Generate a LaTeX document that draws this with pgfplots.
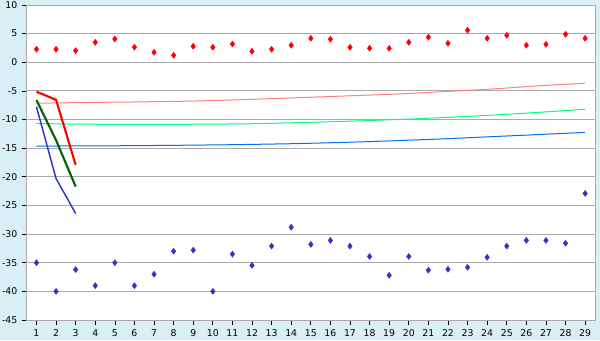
\documentclass[border=0pt]{standalone}
\usepackage{pgfplots}
\pgfplotsset{compat=1.18}
\usepackage{fontspec}
\setmainfont{DejaVu Sans}
\definecolor{bgblue}{RGB}{218,238,245}
\definecolor{gridgray}{RGB}{170,170,170}
\definecolor{ptred}{RGB}{255,0,0}
\definecolor{ptblue}{RGB}{51,51,204}
\definecolor{dkgreen}{RGB}{0,100,0}
\definecolor{pinkline}{RGB}{255,128,128}
\definecolor{ltgreen}{RGB}{0,255,128}
\definecolor{ltblue}{RGB}{0,112,240}
\begin{document}
\begin{tikzpicture}
\fill[bgblue] (0,0) rectangle (450pt,255pt);
\begin{axis}[
  at={(20pt,15pt)}, anchor=south west,
  scale only axis, width=426.2pt, height=236.25pt,
  xmin=0.5, xmax=29.5, ymin=-45, ymax=10,
  xtick={1,...,29}, ytick={-45,-40,...,10},
  axis background/.style={fill=white},
  axis line style={gridgray},
  ymajorgrids, major grid style={gridgray, line width=0.75pt},
  tick style={black, line width=0.5pt},
  tick align=outside, major tick length=3.5pt,
  xtick pos=bottom, ytick pos=left,
  /pgf/number format/assume math mode=true,
  tick label style={font=\fontsize{7}{8}\selectfont},
  xticklabel style={yshift=-0.5pt},
]
% trend curves
\addplot[pinkline, line width=0.75pt] coordinates {
(1,-7.15)(2,-7.10)(3,-7.05)(4,-7.00)(5,-6.97)(6,-6.93)(7,-6.88)(8,-6.83)(9,-6.77)(10,-6.68)
(11,-6.58)(12,-6.47)(13,-6.35)(14,-6.23)(15,-6.10)(16,-5.98)(17,-5.85)(18,-5.73)(19,-5.60)(20,-5.45)
(21,-5.27)(22,-5.08)(23,-4.90)(24,-4.72)(25,-4.50)(26,-4.25)(27,-4.03)(28,-3.85)(29,-3.65)};
\addplot[ltgreen, line width=0.75pt] coordinates {
(1,-10.68)(2,-10.75)(3,-10.80)(4,-10.82)(5,-10.83)(6,-10.84)(7,-10.84)(8,-10.83)(9,-10.82)(10,-10.80)
(11,-10.77)(12,-10.73)(13,-10.66)(14,-10.57)(15,-10.48)(16,-10.38)(17,-10.28)(18,-10.17)(19,-10.05)(20,-9.92)
(21,-9.77)(22,-9.62)(23,-9.45)(24,-9.27)(25,-9.08)(26,-8.88)(27,-8.66)(28,-8.43)(29,-8.20)};
\addplot[ltblue, line width=0.75pt] coordinates {
(1,-14.63)(2,-14.62)(3,-14.61)(4,-14.60)(5,-14.58)(6,-14.56)(7,-14.53)(8,-14.50)(9,-14.47)(10,-14.43)
(11,-14.39)(12,-14.34)(13,-14.28)(14,-14.22)(15,-14.14)(16,-14.05)(17,-13.96)(18,-13.85)(19,-13.73)(20,-13.60)
(21,-13.48)(22,-13.34)(23,-13.18)(24,-13.02)(25,-12.87)(26,-12.72)(27,-12.56)(28,-12.40)(29,-12.23)};
% thick lines
\addplot[ptred, line width=1.6pt] coordinates {(1,-5.13)(2,-6.55)(3,-17.9)};
\addplot[dkgreen, line width=1.6pt] coordinates {(1,-6.6)(2,-13.6)(3,-21.7)};
\addplot[ptblue, line width=1.1pt] coordinates {(1,-7.75)(2,-20.3)(3,-26.4)};
% points
\addplot[only marks, mark=diamond*, mark size=2.2pt, ptred, mark options={fill=ptred}] coordinates {
(1,2.27)(2,2.27)(3,2.03)(4,3.49)(5,4.07)(6,2.62)(7,1.75)(8,1.22)(9,2.79)(10,2.62)
(11,3.2)(12,1.92)(13,2.27)(14,2.97)(15,4.19)(16,4.02)(17,2.62)(18,2.44)(19,2.44)(20,3.49)
(21,4.37)(22,3.32)(23,5.59)(24,4.19)(25,4.71)(26,2.97)(27,3.14)(28,4.89)(29,4.19)};
\addplot[only marks, mark=diamond*, mark size=2.2pt, ptblue, mark options={fill=ptblue}] coordinates {
(1,-35)(2,-40)(3,-36.2)(4,-39)(5,-35)(6,-39)(7,-37)(8,-33)(9,-32.8)(10,-40)
(11,-33.5)(12,-35.45)(13,-32.1)(14,-28.8)(15,-31.8)(16,-31.1)(17,-32.1)(18,-33.9)(19,-37.2)(20,-33.9)
(21,-36.3)(22,-36.15)(23,-35.8)(24,-34.05)(25,-32.1)(26,-31.1)(27,-31.1)(28,-31.6)(29,-22.9)};
\end{axis}
\pgfresetboundingbox
\path[use as bounding box] (0,0) rectangle (450pt,255pt);
\end{tikzpicture}
\end{document}
